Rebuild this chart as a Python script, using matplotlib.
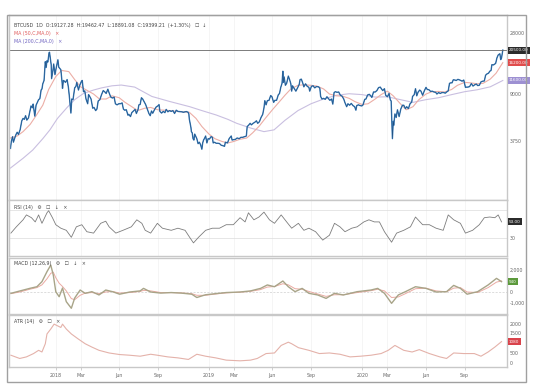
import matplotlib
matplotlib.use("Agg")
import matplotlib.pyplot as plt
from matplotlib.patches import Rectangle
import pandas as pd
import numpy as np

# ---------------- data ----------------
price_dates = [
 "2017-09-15","2017-09-17","2017-09-20","2017-09-22","2017-09-25","2017-09-28","2017-10-01","2017-10-04","2017-10-08","2017-10-12",
 "2017-10-15","2017-10-18","2017-10-21","2017-10-24","2017-10-28","2017-10-31","2017-11-03","2017-11-06","2017-11-08","2017-11-12",
 "2017-11-15","2017-11-18","2017-11-21","2017-11-24","2017-11-27","2017-11-29","2017-12-01","2017-12-04","2017-12-07","2017-12-09",
 "2017-12-11","2017-12-13","2017-12-16","2017-12-17","2017-12-19","2017-12-21","2017-12-22","2017-12-25","2017-12-27","2017-12-30",
 "2018-01-02","2018-01-06","2018-01-08","2018-01-10","2018-01-13","2018-01-16","2018-01-17","2018-01-19","2018-01-21","2018-01-24",
 "2018-01-28","2018-01-31","2018-02-02","2018-02-05","2018-02-06","2018-02-08","2018-02-11","2018-02-15","2018-02-18","2018-02-20",
 "2018-02-24","2018-02-27","2018-03-03","2018-03-05","2018-03-08","2018-03-11","2018-03-14","2018-03-18","2018-03-20","2018-03-22",
 "2018-03-26","2018-03-30","2018-04-02","2018-04-06","2018-04-09","2018-04-12","2018-04-16","2018-04-20","2018-04-24","2018-04-28",
 "2018-05-01","2018-05-05","2018-05-08","2018-05-12","2018-05-16","2018-05-20","2018-05-23","2018-05-27","2018-05-31","2018-06-04",
 "2018-06-08","2018-06-11","2018-06-14","2018-06-18","2018-06-22","2018-06-24","2018-06-28","2018-07-01","2018-07-05","2018-07-09",
 "2018-07-12","2018-07-16","2018-07-18","2018-07-21","2018-07-24","2018-07-27","2018-07-31","2018-08-03","2018-08-06","2018-08-09",
 "2018-08-11","2018-08-14","2018-08-17","2018-08-20","2018-08-24","2018-08-28","2018-09-01","2018-09-04","2018-09-06","2018-09-10",
 "2018-09-14","2018-09-18","2018-09-21","2018-09-25","2018-09-29","2018-10-03","2018-10-07","2018-10-11","2018-10-15","2018-10-19",
 "2018-10-23","2018-10-28","2018-11-01","2018-11-05","2018-11-08","2018-11-12","2018-11-14","2018-11-15","2018-11-19","2018-11-20",
 "2018-11-22","2018-11-24","2018-11-26","2018-11-28","2018-11-30","2018-12-03","2018-12-06","2018-12-09","2018-12-12","2018-12-15",
 "2018-12-17","2018-12-19","2018-12-21","2018-12-24","2018-12-27","2018-12-30",
 "2019-01-02","2019-01-06","2019-01-09","2019-01-11","2019-01-14","2019-01-18","2019-01-22","2019-01-26","2019-01-30","2019-02-03",
 "2019-02-07","2019-02-09","2019-02-14","2019-02-18","2019-02-23","2019-02-25","2019-03-01","2019-03-05","2019-03-09","2019-03-14",
 "2019-03-18","2019-03-22","2019-03-27","2019-03-31","2019-04-02","2019-04-05","2019-04-09","2019-04-12","2019-04-16","2019-04-20",
 "2019-04-24","2019-04-27","2019-05-01","2019-05-05","2019-05-09","2019-05-12","2019-05-14","2019-05-17","2019-05-20","2019-05-24",
 "2019-05-28","2019-05-31","2019-06-04","2019-06-07","2019-06-11","2019-06-15","2019-06-18","2019-06-21","2019-06-24","2019-06-26",
 "2019-06-27","2019-06-29","2019-07-02","2019-07-05","2019-07-09","2019-07-12","2019-07-15","2019-07-17","2019-07-19","2019-07-23",
 "2019-07-27","2019-07-31","2019-08-04","2019-08-06","2019-08-09","2019-08-13","2019-08-15","2019-08-19","2019-08-23","2019-08-27",
 "2019-08-29","2019-09-02","2019-09-06","2019-09-10","2019-09-14","2019-09-19","2019-09-22","2019-09-24","2019-09-27","2019-10-01",
 "2019-10-05","2019-10-09","2019-10-12","2019-10-16","2019-10-20","2019-10-23","2019-10-26","2019-10-29","2019-11-02","2019-11-06",
 "2019-11-10","2019-11-14","2019-11-18","2019-11-21","2019-11-25","2019-11-28","2019-12-02","2019-12-06","2019-12-10","2019-12-14",
 "2019-12-17","2019-12-19","2019-12-23","2019-12-27","2019-12-31",
 "2020-01-03","2020-01-07","2020-01-10","2020-01-14","2020-01-18","2020-01-22","2020-01-24","2020-01-28","2020-02-01","2020-02-05",
 "2020-02-09","2020-02-13","2020-02-16","2020-02-19","2020-02-23","2020-02-26","2020-03-01","2020-03-05","2020-03-08","2020-03-10",
 "2020-03-12","2020-03-13","2020-03-15","2020-03-16","2020-03-19","2020-03-22","2020-03-25","2020-03-29","2020-04-02","2020-04-06",
 "2020-04-09","2020-04-13","2020-04-16","2020-04-20","2020-04-24","2020-04-28","2020-04-30","2020-05-04","2020-05-07","2020-05-10",
 "2020-05-13","2020-05-17","2020-05-20","2020-05-24","2020-05-28","2020-06-01","2020-06-04","2020-06-08","2020-06-12","2020-06-16",
 "2020-06-20","2020-06-24","2020-06-27","2020-07-01","2020-07-05","2020-07-09","2020-07-13","2020-07-17","2020-07-21","2020-07-24",
 "2020-07-27","2020-07-30","2020-08-02","2020-08-05","2020-08-09","2020-08-12","2020-08-16","2020-08-19","2020-08-22","2020-08-26",
 "2020-08-30","2020-09-03","2020-09-06","2020-09-09","2020-09-13","2020-09-17","2020-09-21","2020-09-25","2020-09-29","2020-10-02",
 "2020-10-06","2020-10-10","2020-10-14","2020-10-18","2020-10-21","2020-10-24","2020-10-28","2020-10-31","2020-11-03","2020-11-05",
 "2020-11-08","2020-11-11","2020-11-14","2020-11-17","2020-11-20","2020-11-24","2020-11-26","2020-11-28","2020-11-30","2020-12-01",
]
price_values = [
 3250,3700,4050,3650,3930,4200,4400,4220,4610,5450,
 5700,5600,6000,5520,5760,6470,7200,6960,7460,5950,
 7300,7700,8100,8250,9700,9900,10900,11600,16500,14800,
 16800,16400,19500,19700,17600,15600,12000,13900,15800,12950,
 14700,17100,14900,14600,14200,11200,10000,11600,11500,11200,
 11800,10200,8800,6900,6300,8200,8100,10100,10400,11200,
 9700,10600,11400,11600,9400,9550,8200,7500,8900,8700,
 8200,6900,7000,6600,6800,7900,8100,8900,9600,9350,
 9100,9850,9200,8500,8350,8500,7500,7350,7500,7500,
 7620,6800,6650,6700,6050,6150,5900,6350,6550,6750,
 6250,6750,7350,7400,8400,8200,7750,7400,6950,6500,
 6230,6000,6550,6280,6700,7050,7200,7380,6500,6300,
 6500,6350,6750,6450,6600,6500,6600,6250,6650,6500,
 6480,6450,6400,6450,6480,6400,6200,5650,4800,4450,
 4350,3900,3800,4250,4100,3900,3550,3650,3480,3200,
 3600,3800,3900,4100,3600,3900,
 3870,4050,4000,3600,3650,3580,3580,3560,3450,3420,
 3380,3650,3600,3900,4100,3800,3830,3850,3950,3900,
 4000,4000,4050,4100,4900,5000,5200,5050,5200,5300,
 5450,5200,5350,5800,6150,6950,7950,7350,7950,8000,
 8750,8550,7700,8000,8000,8850,9100,10200,11000,13800,
 11200,12400,10600,11000,12600,11800,10900,9500,10500,10000,
 9500,10100,10800,11800,11900,10900,10300,10900,10400,10200,
 9500,10400,10500,10100,10350,10300,10050,8600,8200,8300,
 8150,8550,8300,8000,8200,7450,9250,9400,9300,9350,
 8800,8650,8200,7650,7100,7500,7300,7550,7250,7100,
 6650,7250,7350,7250,7200,
 7350,8150,8200,8850,8950,8650,8450,9350,9350,9600,
 10150,10250,9900,9600,9950,8800,8550,9100,8050,7900,
 4900,3900,5400,5000,6200,5800,6700,5900,6800,7300,
 7300,6850,7100,6850,7500,7750,8600,8900,9950,8700,
 9300,9700,9500,8800,9550,10200,9800,9750,9450,9500,
 9350,9300,9000,9250,9100,9250,9250,9150,9400,9550,
 11000,11100,11100,11750,11700,11600,11850,11750,11650,11450,
 11700,10200,10250,10250,10350,10950,10450,10700,10850,10550,
 10600,11300,11450,11500,12800,13100,13300,13800,14000,15600,
 15500,15700,16000,17700,18700,19150,17150,17700,19700,20500,
]

ma50_dates = [
 "2017-09-15","2017-10-01","2017-10-15","2017-11-01","2017-11-15","2017-12-01","2017-12-15",
 "2018-01-01","2018-01-15","2018-02-01","2018-02-15","2018-03-01","2018-03-15","2018-04-01","2018-04-15",
 "2018-05-01","2018-05-15","2018-06-01","2018-06-15","2018-07-01","2018-07-15","2018-08-01","2018-08-15",
 "2018-09-01","2018-09-15","2018-10-01","2018-10-15","2018-11-01","2018-11-15","2018-12-01","2018-12-15",
 "2019-01-01","2019-01-15","2019-02-01","2019-02-15","2019-03-01","2019-03-15","2019-04-01","2019-04-15",
 "2019-05-01","2019-05-15","2019-06-01","2019-06-15","2019-07-01","2019-07-15","2019-08-01","2019-08-15",
 "2019-09-01","2019-09-15","2019-10-01","2019-10-15","2019-11-01","2019-11-15","2019-12-01","2019-12-15",
 "2020-01-01","2020-01-15","2020-02-01","2020-02-15","2020-03-01","2020-03-15","2020-04-01","2020-04-15",
 "2020-05-01","2020-05-15","2020-06-01","2020-06-15","2020-07-01","2020-07-15","2020-08-01","2020-08-15",
 "2020-09-01","2020-09-15","2020-10-01","2020-10-15","2020-11-01","2020-11-15","2020-12-01",
]
ma50_values = [
 3950,4100,4450,5100,6000,7300,9800,
 12500,14000,13700,11800,10300,9700,9000,8200,
 8200,8700,8400,7700,7100,6600,6900,7000,
 6700,6650,6600,6500,6450,6400,5700,4900,
 4250,3900,3700,3600,3700,3850,3950,4350,
 4950,5700,6700,7600,8800,9900,10600,10700,
 10600,10450,9900,9000,8700,8650,8300,7800,
 7400,7500,8200,8900,9500,8700,7500,6700,
 7100,8100,9000,9400,9450,9350,9800,10600,
 11200,11100,10900,11000,11900,13300,16200,
]

ma200_dates = [
 "2017-09-15","2017-10-15","2017-11-07","2017-12-01","2017-12-18","2018-01-05","2018-01-28","2018-02-15",
 "2018-03-08","2018-04-01","2018-04-19","2018-05-15","2018-06-06","2018-07-08","2018-08-18","2018-09-28",
 "2018-11-16","2018-12-15","2019-01-18","2019-02-15","2019-03-08","2019-04-11","2019-05-12","2019-06-05",
 "2019-07-01","2019-08-01","2019-09-01","2019-10-01","2019-11-01","2019-12-01","2020-01-01","2020-02-01",
 "2020-03-01","2020-04-01","2020-05-01","2020-06-01","2020-07-01","2020-08-01","2020-09-01","2020-10-01",
 "2020-11-01","2020-12-01",
]
ma200_values = [
 2250,2700,3150,3900,4600,5700,7000,8100,
 9100,9700,10080,10500,10650,10250,8600,7850,
 7100,6600,6080,5600,5200,4750,4450,4600,
 5500,6600,7500,8200,8800,9050,8900,8500,
 8550,8100,7700,8100,8400,8900,9400,9750,
 10300,11600,
]

# indicator readings: day offsets from 2018-01-01
rsi_days = [-107,-94,-78,-70,-58,-49,-41,-33,-21,-17,-8,0,12,25,37,49,62,74,90,107,119,127,143,160,180,193,205,213,226,242,
            254,275,291,308,320,328,340,357,373,390,406,423,439,451,459,472,484,496,509,521,537,550,562,578,591,603,619,636,652,664,
            677,689,705,718,734,746,759,771,783,800,812,829,845,857,874,890,906,923,935,948,964,976,993,1009,1021,1034,1046,1054,1062]
rsi_values = [37,46,56,63,59,53,63,51,66,69,59,49,44,41,31,46,49,39,37,51,54,46,37,41,46,56,51,41,37,51,
              44,41,44,41,30,23,31,41,44,44,49,49,59,53,66,56,60,67,56,51,63,53,44,51,41,44,39,27,34,51,
              46,39,44,46,53,56,53,53,39,24,37,41,46,60,49,49,44,41,63,56,51,37,41,49,59,60,59,63,53]

macd_days = [-107,-86,-62,-45,-33,-21,-12,-6,0,8,16,25,37,45,58,70,86,103,119,135,152,176,201,209,226,250,275,299,324,336,
             357,381,406,439,464,488,504,521,541,554,570,587,603,624,644,664,685,718,751,767,783,800,816,833,857,882,906,931,948,964,
             980,1005,1030,1050,1062]
macd_values = [-120,90,330,480,940,1850,2450,1550,30,-430,360,-880,-1480,-550,180,-120,30,-270,180,30,-200,0,100,330,0,-100,-50,-100,-200,-500,
               -250,-150,-50,0,100,330,640,480,1000,480,30,330,-120,-270,-580,-120,-270,30,180,330,-120,-1030,-270,30,480,330,0,30,600,330,
               -200,30,640,1240,940]
signal_values = [-150,0,250,400,650,1200,1700,1800,1300,800,500,100,-600,-700,-300,-100,-50,-150,0,50,-100,-50,50,150,100,-50,-60,-80,-150,-300,
                 -300,-180,-80,-20,60,220,450,500,750,650,300,250,50,-180,-400,-250,-250,-50,120,250,100,-500,-450,-150,300,350,100,20,350,400,
                 0,-50,400,900,1000]

atr_days = [-107,-86,-70,-53,-41,-33,-25,-21,-12,-4,4,12,16,25,37,53,70,86,103,127,152,176,201,226,242,267,291,316,336,357,
            381,406,439,464,480,501,521,537,554,562,578,603,628,652,677,701,726,751,775,792,808,829,849,866,890,915,931,948,972,997,
            1013,1030,1046,1062]
atr_values = [385,220,300,470,635,550,970,1470,1720,1970,1885,1800,1970,1720,1470,1220,970,800,635,500,420,385,335,435,385,300,250,170,435,335,
              250,135,100,135,220,470,500,885,1050,970,770,635,470,500,435,300,335,385,470,635,885,635,550,670,470,300,220,500,470,470,
              335,550,800,1080]

xtick_dates = ["2018-01-01","2018-03-01","2018-06-01","2018-09-01","2019-01-01","2019-03-01","2019-06-01","2019-09-01",
               "2020-01-01","2020-03-01","2020-06-01","2020-09-01"]
xtick_labels = ["2018","Mar","Jun","Sep","2019","Mar","Jun","Sep","2020","Mar","Jun","Sep"]

price_ticks = [28000, 9000, 3750]
price_tick_labels = ["28000", "9000", "3750"]
macd_ticks = [2000, 0, -1000]
macd_tick_labels = ["2,000", "0", "-1,000"]
atr_ticks = [2000, 1500, 500, 0]
atr_tick_labels = ["2000", "1500", "500", "0"]

header_text = "BTCUSD  1D  O:19127.28  H:19462.47  L:18891.08  C:19399.21  (+1.30%)   \u2610  \u2193"
ma50_text = "MA (50,C,MA,0)   \u00d7"
ma200_text = "MA (200,C,MA,0)   \u00d7"
rsi_text = "RSI (14)   \u2699   \u2610   \u2193   \u00d7"
macd_text = "MACD (12,26,9)   \u2699   \u2610   \u2193   \u00d7"
atr_text = "ATR (14)   \u2699   \u2610   \u00d7"

# ---------------- helpers ----------------
base = pd.Timestamp("2018-01-01")
def to_days(ds):
    return (pd.to_datetime(ds) - base).days.values.astype(float)

W, H = 536, 390
fig = plt.figure(figsize=(W/100, H/100), dpi=100)
fig.patch.set_facecolor("white")

L, R = 9, 507
def rect(top, bottom):
    return [L/W, 1-bottom/H, (R-L)/W, (bottom-top)/H]

XL = (-111.5, 1075)
xt = to_days(xtick_dates)
TXT = "#666666"
FS = 3.4

def style(ax):
    ax.set_xlim(*XL)
    ax.set_xticks(xt)
    ax.tick_params(axis="x", length=0, labelbottom=False)
    ax.yaxis.tick_right()
    ax.tick_params(axis="y", length=0, labelsize=FS, colors=TXT, pad=2)
    for s in ax.spines.values():
        s.set_color("#c8c8c8")
        s.set_linewidth(1.0)
    ax.grid(axis="x", color="#f2f2f2", lw=0.5)
    ax.set_axisbelow(True)

def box(ax, val, txt, color, fc="white"):
    ax.annotate(txt, xy=(1.0, val), xycoords=("axes fraction", "data"),
                xytext=(1.5, 0), textcoords="offset points", ha="left", va="center",
                fontsize=3.0, color=fc,
                bbox=dict(boxstyle="square,pad=0.35", fc=color, ec="none"), annotation_clip=False)

# ---------------- price ----------------
ax1 = fig.add_axes(rect(15, 200))
style(ax1)
ax1.set_yscale("log")
ax1.set_ylim(1236, 39566)
ax1.yaxis.set_minor_locator(matplotlib.ticker.NullLocator())
ax1.set_yticks(price_ticks)
ax1.set_yticklabels(price_tick_labels)
ax1.plot(to_days(ma200_dates), ma200_values, color="#c9bfe0", lw=0.8)
ax1.plot(to_days(ma50_dates), ma50_values, color="#ecaea6", lw=0.8)
pdays = to_days(price_dates)
ax1.plot(pdays, price_values, color="#3a7bb8", lw=1.0)
ax1.plot(pdays, price_values, color="#1d4b7a", lw=0.3)
ax1.axhline(price_values[-1], color="#666666", lw=0.6)
box(ax1, price_values[-1], f"{price_values[-1]:.2f}", "#2b2b2b")
box(ax1, ma50_values[-1], f"{ma50_values[-1]:.2f}", "#e04c4c")
box(ax1, ma200_values[-1], f"{ma200_values[-1]:.2f}", "#9d90d2")

# ---------------- RSI ----------------
ax2 = fig.add_axes(rect(200, 256))
style(ax2)
ax2.set_ylim(4.3, 84.3)
ax2.set_yticks([30])
ax2.set_yticklabels(["30"])
ax2.axhline(70, color="#dcdcdc", lw=0.5)
ax2.axhline(30, color="#dcdcdc", lw=0.5)
ax2.plot(rsi_days, rsi_values, color="#7d7d7d", lw=0.6)
box(ax2, rsi_values[-1], f"{rsi_values[-1]:.2f}", "#2b2b2b")

# ---------------- MACD ----------------
ax3 = fig.add_axes(rect(258, 314))
style(ax3)
ax3.set_ylim(-2000, 3091)
ax3.set_yticks(macd_ticks)
ax3.set_yticklabels(macd_tick_labels)
ax3.axhline(0, color="#cfcfcf", lw=0.5, ls=(0, (3, 2)))
ax3.plot(macd_days, signal_values, color="#eaaaa2", lw=0.7)
ax3.plot(macd_days, macd_values, color="#a8a488", lw=1.0)
box(ax3, macd_values[-1], f"{macd_values[-1]:.0f}", "#5c9a3c")

# ---------------- ATR ----------------
ax4 = fig.add_axes(rect(315, 367))
style(ax4)
ax4.set_ylim(-215, 2435)
ax4.set_yticks(atr_ticks)
ax4.set_yticklabels(atr_tick_labels)
ax4.plot(atr_days, atr_values, color="#e4b2aa", lw=0.8)
box(ax4, atr_values[-1], f"{atr_values[-1]:.0f}", "#d9434b")
ax4.set_xticklabels(xtick_labels)
ax4.tick_params(axis="x", length=2, width=0.5, color="#bbbbbb", labelbottom=True,
                labelsize=FS, labelcolor=TXT, pad=2)

# ---------------- headers ----------------
def ftext(x, y, s, color, **kw):
    fig.text(x/W, 1-y/H, s, fontsize=FS, color=color, ha="left", va="center", **kw)

ftext(14, 25, header_text, "#444444")
ftext(14, 33, ma50_text, "#e05a5a")
ftext(14, 42, ma200_text, "#6f63c0")
ftext(14, 207, rsi_text, "#444444")
ftext(14, 264, macd_text, "#444444")
ftext(14, 321, atr_text, "#444444")

# outer frame
fig.patches.append(Rectangle((7/W, 1-382/H), (526-7)/W, (382-15)/H, transform=fig.transFigure,
                             fill=False, ec="#a0a0a0", lw=1.0))

fig.savefig("out.png", dpi=100, facecolor="white")
